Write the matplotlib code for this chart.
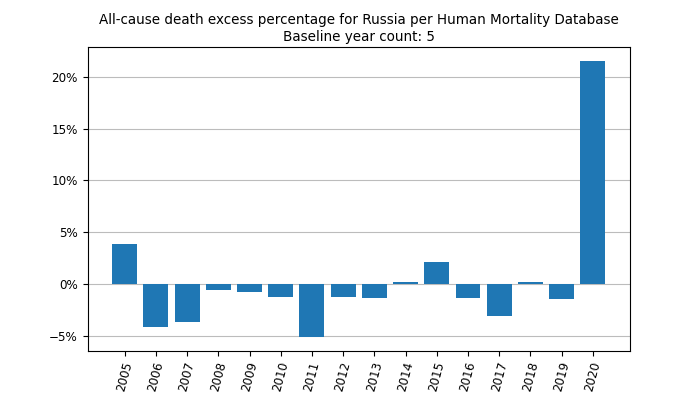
import matplotlib
matplotlib.use("Agg")
import matplotlib.pyplot as plt
from matplotlib.ticker import PercentFormatter


# ==============================
# DATA
# ==============================

years = [2005, 2006, 2007, 2008, 2009, 2010, 2011, 2012,
         2013, 2014, 2015, 2016, 2017, 2018, 2019, 2020]

excess_pct = [3.86, -4.12, -3.67, -0.52, -0.74, -1.26, -5.06, -1.26,
              -1.35, 0.26, 2.19, -1.32, -3.06, 0.26, -1.42, 21.5]


# ==============================
# PLOT
# ==============================

fig, ax = plt.subplots(figsize=(7, 3.94), dpi=100)

ax.bar(years, excess_pct, color="#1f77b4")
ax.set_axisbelow(True)
ax.grid(axis="y", color="#bcbcbc", linewidth=0.8)

ax.set_xticks(years)
ax.set_xticklabels([str(y) for y in years], rotation=75)
ax.yaxis.set_major_formatter(PercentFormatter(xmax=100, decimals=0))
ax.tick_params(labelsize=8.6, length=3.5, width=0.8)

ax.set_title("All-cause death excess percentage for Russia per Human Mortality Database\n"
             "Baseline year count: 5", fontsize=9.75, pad=4.5, linespacing=1.3)

fig.savefig("out.png", dpi=100)
